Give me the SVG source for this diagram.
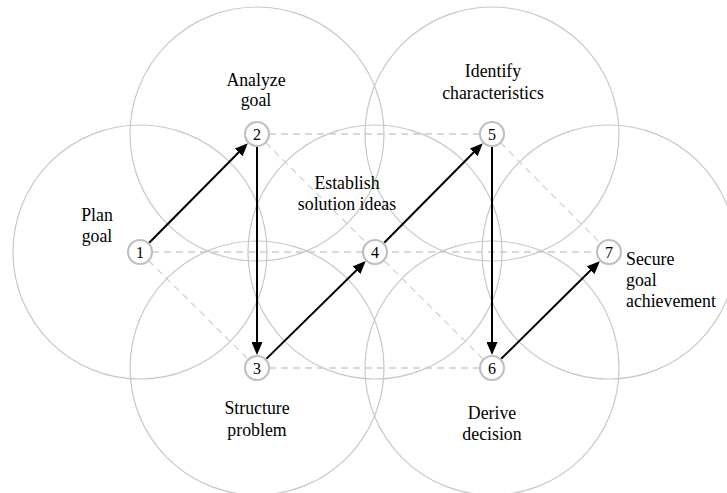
<svg xmlns="http://www.w3.org/2000/svg" width="727" height="493" viewBox="0 0 727 493">
<style>
.big{fill:none;stroke:#c8c8c8;stroke-width:1.2}
.dh{stroke:#cccccc;stroke-width:1.6;stroke-dasharray:7 5;fill:none}
.dd{stroke:#cccccc;stroke-width:1.1;stroke-dasharray:7 5;fill:none}
.arr{stroke:#000;stroke-width:2;fill:none;marker-end:url(#ah)}
.node{fill:#fff;stroke:#c0c0c0;stroke-width:2.2}
.num{font-family:"Liberation Serif","Times New Roman",serif;font-size:16px;fill:#000;text-anchor:middle}
.lbl{font-family:"Liberation Serif","Times New Roman",serif;font-size:17.8px;fill:#000;text-anchor:middle}
.lft{text-anchor:start}
</style>
<defs>
<marker id="ah" markerUnits="userSpaceOnUse" markerWidth="13" markerHeight="11" refX="10" refY="5.5" orient="auto">
<path d="M0,0 L13,5.5 L0,11 z" fill="#000"/>
</marker>
</defs>
<rect width="727" height="493" fill="#fff"/>
<g id="areas">
<circle class="big" cx="140" cy="252" r="127"/>
<circle class="big" cx="257" cy="134" r="127"/>
<circle class="big" cx="257" cy="368" r="127"/>
<circle class="big" cx="375" cy="252" r="127"/>
<circle class="big" cx="492" cy="134" r="127"/>
<circle class="big" cx="492" cy="368" r="127"/>
<circle class="big" cx="609" cy="252" r="127"/>
</g>
<g id="connectors">
<line class="dh" x1="257" y1="134" x2="492" y2="134"/>
<line class="dh" x1="140" y1="252" x2="609" y2="252"/>
<line class="dh" x1="257" y1="368" x2="492" y2="368"/>
<line class="dd" x1="257" y1="134" x2="492" y2="368"/>
<line class="dd" x1="140" y1="252" x2="257" y2="368"/>
<line class="dd" x1="492" y1="134" x2="609" y2="252"/>
<line class="arr" x1="149.2" y1="242.8" x2="245.7" y2="145.3"/>
<line class="arr" x1="257" y1="147" x2="257" y2="352"/>
<line class="arr" x1="266.3" y1="358.9" x2="363.6" y2="263.2"/>
<line class="arr" x1="384.2" y1="242.8" x2="480.7" y2="145.3"/>
<line class="arr" x1="492" y1="147" x2="492" y2="352"/>
<line class="arr" x1="501.2" y1="358.8" x2="597.7" y2="263.3"/>
</g>
<g id="n1"><circle class="node" cx="140" cy="252" r="12"/><text class="num" x="140" y="257.5">1</text></g>
<g id="n2"><circle class="node" cx="257" cy="134" r="12"/><text class="num" x="257" y="139.5">2</text></g>
<g id="n3"><circle class="node" cx="257" cy="368" r="12"/><text class="num" x="257" y="373.5">3</text></g>
<g id="n4"><circle class="node" cx="375" cy="252" r="12"/><text class="num" x="375" y="257.5">4</text></g>
<g id="n5"><circle class="node" cx="492" cy="134" r="12"/><text class="num" x="492" y="139.5">5</text></g>
<g id="n6"><circle class="node" cx="492" cy="368" r="12"/><text class="num" x="492" y="373.5">6</text></g>
<g id="n7"><circle class="node" cx="609" cy="252" r="12"/><text class="num" x="609" y="257.5">7</text></g>
<g id="labels">
<text class="lbl" x="97" y="221">Plan</text>
<text class="lbl" x="97" y="242">goal</text>
<text class="lbl" x="256" y="86">Analyze</text>
<text class="lbl" x="256" y="106">goal</text>
<text class="lbl" x="493" y="77">Identify</text>
<text class="lbl" x="493" y="99">characteristics</text>
<text class="lbl" x="347" y="189">Establish</text>
<text class="lbl" x="347" y="210">solution ideas</text>
<text class="lbl" x="257" y="414">Structure</text>
<text class="lbl" x="257" y="436">problem</text>
<text class="lbl" x="492" y="419">Derive</text>
<text class="lbl" x="492" y="440">decision</text>
<text class="lbl lft" x="626" y="265">Secure</text>
<text class="lbl lft" x="626" y="286">goal</text>
<text class="lbl lft" x="626" y="307">achievement</text>
</g>
</svg>
